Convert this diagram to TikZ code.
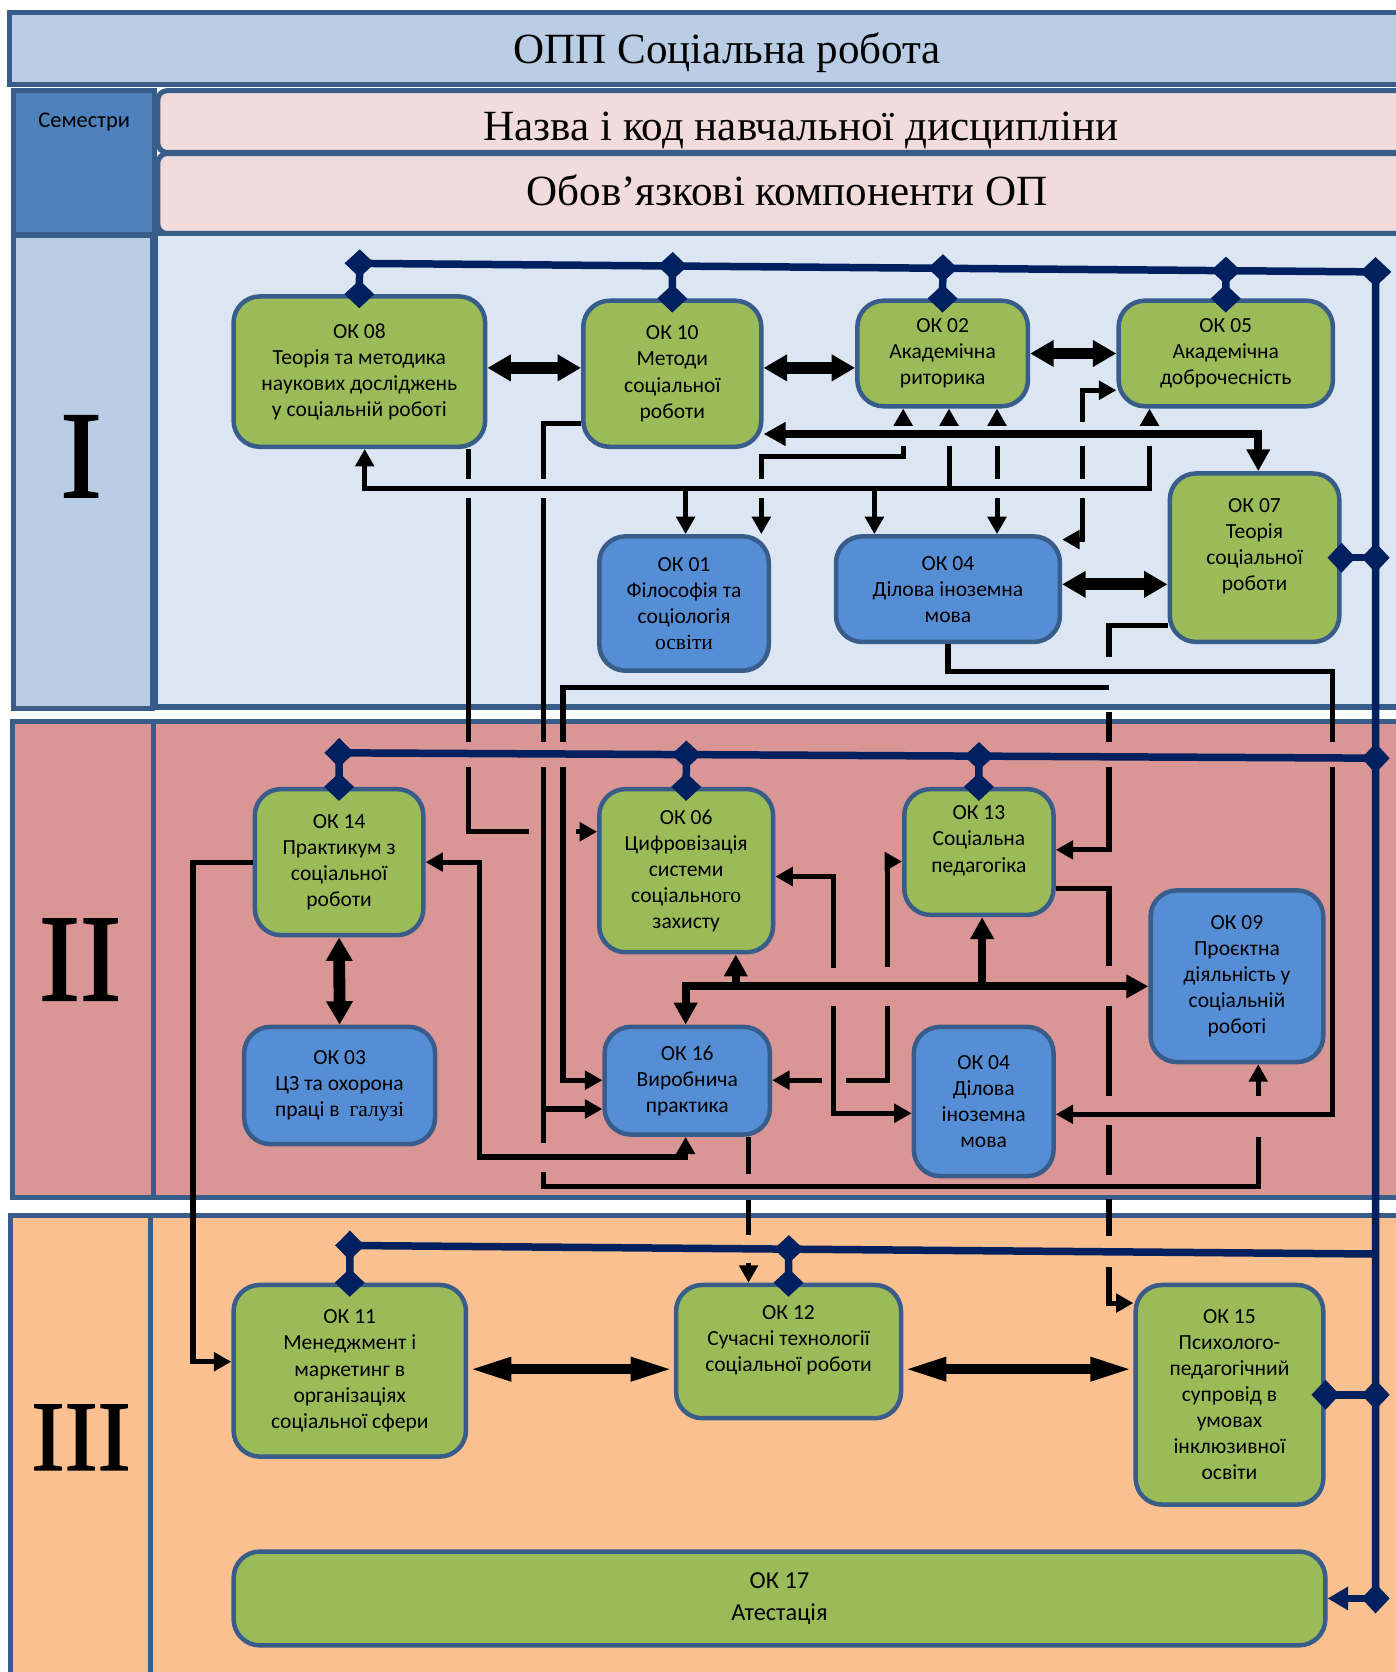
\documentclass[tikz,border=0pt]{standalone}
\usepackage{fontspec}
\setmainfont{Liberation Serif}
\newfontfamily\okfont{Carlito}
\newfontfamily\numfont[FakeBold=1.6]{Liberation Serif}
\usetikzlibrary{arrows.meta,calc,shapes.geometric}

\definecolor{hdrblue}{HTML}{B9CDE5}
\definecolor{frameblue}{HTML}{385D8A}
\definecolor{semcolblue}{HTML}{4F81BD}
\definecolor{rowpink}{HTML}{F2DCDB}
\definecolor{semone}{HTML}{DCE6F2}
\definecolor{semtwo}{HTML}{D99694}
\definecolor{semthree}{HTML}{FAC090}
\definecolor{okgreen}{HTML}{9BBB59}
\definecolor{okblue}{HTML}{558ED5}
\definecolor{busnavy}{HTML}{002060}

\tikzset{
  panel/.style={draw=frameblue, line width=2.7pt},
  okbox/.style={draw=frameblue, line width=2.4pt, rounded corners=14pt, align=center, inner sep=2pt,
    font=\okfont\fontsize{11.5}{13.9}\selectfont},
  gbox/.style={okbox, fill=okgreen},
  bbox/.style={okbox, fill=okblue},
  lnk/.style={line width=2.7pt, >={Triangle[length=9.3pt,width=9.8pt]}},
  lnkfat/.style={line width=4.3pt, >={Triangle[length=11.7pt,width=12pt]}},
  dbl/.style={line width=6.3pt, <->, >={Triangle[length=12.5pt,width=13.5pt]}},
  dbllong/.style={line width=5.3pt, <->, >={Triangle[length=23pt,width=11.5pt]}},
  bus/.style={draw=busnavy, line width=4pt},
  drop/.style={bus, >={Diamond[length=15pt,width=16pt]}, <->, shorten <=-7.5pt, shorten >=-7.5pt},
  dmd/.style={diamond, fill=busnavy, inner sep=0pt, minimum width=17pt, minimum height=16pt},
  semnum/.style={font=\numfont\fontsize{#1}{#1}\selectfont}
}

\begin{document}
\begin{tikzpicture}[x=0.02cm, y=-0.02cm]
\useasboundingbox (0,0) rectangle (1309,1568);
\clip (0,0) rectangle (1309,1568);
\fill[white] (0,0) rectangle (1309,1568);

% frame of the table
\draw[panel, fill=hdrblue] (9,12) rectangle (1340,79);
\draw[panel, fill=semcolblue] (13,85) rectangle (145,220);
\draw[panel, fill=rowpink, rounded corners=5pt] (148,85) rectangle (1340,143);
\draw[panel, fill=rowpink, rounded corners=5pt] (148,144) rectangle (1340,219);
\draw[panel, fill=hdrblue] (13,221) rectangle (143,664);
\draw[panel, fill=semone] (146,219) rectangle (1340,663);
\draw[panel, fill=semtwo] (12,677) rectangle (1340,1123);
\draw[panel] (144,677) -- (144,1123);
\draw[panel, fill=semthree] (10,1140) rectangle (1340,1620);
\draw[panel] (141,1140) -- (141,1620);

\node[anchor=base, font=\fontsize{23}{23}\selectfont] (title) at (682,60) {ОПП Соціальна робота};
\node[anchor=base, font=\fontsize{23}{23}\selectfont] (rowname) at (751,132) {Назва і код навчальної дисципліни};
\node[anchor=base, font=\fontsize{23}{23}\selectfont] (rowmand) at (738,193) {Обов’язкові компоненти ОП};
\node[anchor=base, font=\okfont\fontsize{12}{12}\selectfont] (semhdr) at (79,120) {Семестри};
\node[semnum=66] (semi) at (76,428) {I};
\node[semnum=66] (semii) at (75,900) {II};
\node[semnum=53] (semiii) at (76,1348) {III};

% semester I
\node[gbox, minimum width=4.72cm, minimum height=2.82cm] (ok08) at (337,348.5) {ОК 08\\Теорія та методика\\наукових досліджень\\у соціальній роботі};
\node[gbox, minimum width=3.34cm, minimum height=2.74cm] (ok10) at (630.5,350.5) {ОК 10\\Методи\\соціальної\\роботи};
\node[gbox, minimum width=3.2cm, minimum height=1.98cm] (ok02) at (884,331.5) {ОК 02\\Академічна\\риторика};
\node[gbox, minimum width=4.02cm, minimum height=1.98cm] (ok05) at (1149.5,331.5) {ОК 05\\Академічна\\доброчесність};
\node[gbox, minimum width=3.18cm, minimum height=3.16cm] (ok07) at (1176.5,523) {ОК 07\\Теорія\\соціальної\\роботи\\~};
\node[bbox, minimum width=3.18cm, minimum height=2.52cm] (ok01) at (641.5,566) {ОК 01\\Філософія та\\соціологія\\{\rmfamily освіти}};
\node[bbox, minimum width=4.2cm, minimum height=1.98cm] (ok04) at (889,552.5) {ОК 04\\Ділова іноземна\\мова};

% semester II
\node[gbox, minimum width=3.16cm, minimum height=2.74cm] (ok14) at (318,808.5) {ОК 14\\Практикум з\\соціальної\\роботи};
\node[gbox, minimum width=3.26cm, minimum height=3.06cm] (ok06) at (643.5,816.5) {ОК 06\\Цифровізація\\системи\\соціальн{\rmfamily ого}\\захисту};
\node[gbox, minimum width=2.8cm, minimum height=2.36cm] (ok13) at (918,799) {ОК 13\\Соціальна\\педагогіка\\~};
\node[bbox, minimum width=3.24cm, minimum height=3.22cm] (ok09) at (1160,915.5) {ОК 09\\Проєктна\\діяльність у\\соціальній\\роботі};
\node[bbox, minimum width=3.58cm, minimum height=2.2cm] (ok03) at (318.5,1018) {ОК 03\\ЦЗ та охорона\\праці в \ {\rmfamily галузі}};
\node[bbox, minimum width=3.1cm, minimum height=2.02cm] (ok16) at (644.5,1013.5) {ОК 16\\Виробнича\\практика};
\node[bbox, minimum width=2.62cm, minimum height=2.8cm] (ok04b) at (922.5,1033) {ОК 04\\Ділова\\іноземна\\мова};

% semester III
\node[gbox, minimum width=4.36cm, minimum height=3.22cm] (ok11) at (328,1285.5) {ОК 11\\Менеджмент і\\маркетинг в\\організаціях\\соціальної сфери};
\node[gbox, minimum width=4.22cm, minimum height=2.5cm] (ok12) at (739.5,1267.5) {ОК 12\\Сучасні технології\\соціальної роботи\\~};
\node[gbox, minimum width=3.52cm, minimum height=4.12cm] (ok15) at (1153,1308) {ОК 15\\Психолого-\\педагогічний\\супровід в\\умовах\\інклюзивної\\освіти};
\node[gbox, minimum width=20.48cm, minimum height=1.76cm, font=\okfont\fontsize{13}{17}\selectfont] (ok17) at (731,1499) {ОК 17\\Атестація};

% links, semester I
\draw[dbl] (ok08.east |- 0,345) -- (ok10.west |- 0,345);
\draw[dbl] (ok10.east |- 0,345) -- (ok02.west |- 0,345);
\draw[dbl] (ok02.east) -- (ok05.west);
\draw[dbl] (ok04.east |- 0,548) -- (ok07.west |- 0,548);
\draw[lnkfat, <->] (ok10.east |- 0,407) -- (1180,407) -- (ok07.north -| 1180,0);

\draw[lnk, <-] (ok02.south -| 847,0) -- (847,398);
\draw[lnk] (847,418) -- (847,428) -- (714,428) -- (714,449);
\draw[lnk, ->] (714,467) -- (ok01.north -| 714,0);
\draw[lnk, <-] (ok02.south -| 890,0) -- (890,398);
\draw[lnk] (890,418) -- (890,458);
\draw[lnk, <-] (ok02.south -| 935,0) -- (935,398);
\draw[lnk] (935,418) -- (935,449);
\draw[lnk, ->] (935,467) -- (ok04.north -| 935,0);
\draw[lnk, <-] (ok05.south -| 1078,0) -- (1078,398);
\draw[lnk, ->] (1078,418) -- (1078,458) -- (342,458) -- (ok08.south -| 342,0);
\draw[lnk, ->] (643,458) -- (ok01.north -| 643,0);
\draw[lnk, ->] (820,458) -- (ok04.north -| 820,0);
\draw[lnk, <-] (ok05.west |- 0,366) -- (1015,366) -- (1015,396);
\draw[lnk] (1015,418) -- (1015,449);
\draw[lnk, ->] (1015,467) -- (1015,506) -- (ok04.east |- 0,506);

\draw[lnk] (ok08.south -| 439,0) -- (439,449);
\draw[lnk] (439,467) -- (439,696);
\draw[lnk] (439,719) -- (439,780) -- (496,780);
\draw[lnk, ->] (540,780) -- (ok06.west |- 0,780);

\draw[lnk] (ok10.west |- 0,397) -- (510,397) -- (510,449);
\draw[lnk] (510,467) -- (510,696);
\draw[lnk] (510,719) -- (510,1072);
\draw[lnk, ->] (510,1040) -- (ok16.west |- 0,1040);
\draw[lnk] (510,1099) -- (510,1113) -- (1180,1113) -- (1180,1066);
\draw[lnk, ->] (1180,1028) -- (ok09.south -| 1180,0);

\draw[lnk] (ok07.west |- 0,587) -- (1040,587) -- (1040,616);
\draw[lnk] (1040,668) -- (1040,696);
\draw[lnk, ->] (1040,719) -- (1040,797) -- (ok13.east |- 0,797);
\draw[lnk] (1040,645) -- (528,645) -- (528,696);
\draw[lnk, ->] (528,719) -- (528,1013) -- (ok16.west |- 0,1013);

\draw[lnk] (ok04.south) -- (ok04.south |- 0,630) -- (1250,630) -- (1250,696);
\draw[lnk, ->] (1250,719) -- (1250,1045) -- (ok04b.east |- 0,1045);

% links, semester II
\draw[lnk] (ok13.east |- 0,833) -- (1040,833) -- (1040,906);
\draw[lnk] (1040,943) -- (1040,1028);
\draw[lnk] (1040,1055) -- (1040,1102);
\draw[lnk] (1040,1124) -- (1040,1159);
\draw[lnk, ->] (1040,1188) -- (1040,1222) -- (ok15.west |- 0,1222);

\draw[dbl] (ok14.south) -- (ok03.north);
\draw[lnk, ->] (ok14.west) -- (ok14.west -| 181,0) -- (181,1277) -- (ok11.west |- 0,1277);
\draw[lnk, <->] (ok14.east) -- (ok14.east -| 450,0) -- (450,1085) -- (643,1085) -- (ok16.south -| 643,0);
\draw[lnk, <-] (ok06.east |- 0,822) -- (782,822) -- (782,908);
\draw[lnk, ->] (782,943) -- (782,1044) -- (ok04b.west |- 0,1044);
\draw[lnk, <-] (ok16.east |- 0,1013) -- (771,1013);
\draw[lnk] (793,1013) -- (832,1013) -- (832,943);
\draw[lnk, ->] (832,907) -- (832,808) -- (ok13.west |- 0,808);
\draw[lnkfat, <->] (ok16.north -| 643,0) -- (643,925) -- (ok09.west |- 0,925);
\draw[lnkfat, ->] (690,925) -- (ok06.south -| 690,0);
\draw[lnkfat, ->] (921,925) -- (ok13.south -| 921,0);

\draw[lnk] (ok16.south -| 702,0) -- (702,1101);
\draw[lnk] (702,1125) -- (702,1158);
\draw[lnk, ->] (702,1184) -- (ok12.north -| 702,0);

% links, semester III
\draw[dbllong] (ok11.east |- 0,1284) -- (ok12.west |- 0,1284);
\draw[dbllong] (ok12.east |- 0,1284) -- (ok15.west |- 0,1284);

% navy buses
\coordinate (busIa) at (337,247);
\coordinate (busIb) at (1290,255);
\coordinate (busIIa) at (318,706);
\coordinate (busIIb) at (1290,711);
\coordinate (busIIIa) at (328,1168);
\coordinate (busIIIb) at (1290,1176);
\coordinate (vbusend) at (1290,1500);

\draw[bus] (busIa) -- (busIb) -- (vbusend);
\node[dmd] (jnI) at (busIb) {};
\foreach \ok in {ok08,ok10,ok02,ok05}
  \draw[drop] ($(busIa)!(\ok.north)!(busIb)$) -- (\ok.north);
\draw[drop] (ok07.east -| busIb) -- (ok07.east);

\draw[drop] (busIIa) -- (busIIb);
\foreach \ok in {ok14,ok06,ok13}
  \draw[drop] ($(busIIa)!(\ok.north)!(busIIb)$) -- (\ok.north);

\draw[bus, {Diamond[length=15pt,width=16pt]}-, shorten <=-7.5pt] (busIIIa) -- (busIIIb);
\foreach \ok in {ok11,ok12}
  \draw[drop] ($(busIIIa)!(\ok.north)!(busIIIb)$) -- (\ok.north);

\draw[drop] (ok15.east -| busIb) -- (ok15.east);
\draw[bus, {Diamond[length=15pt,width=16pt]}-{Triangle[length=11pt,width=12pt]}, shorten <=-7.5pt] (ok17.east -| busIb) -- (ok17.east);
\end{tikzpicture}
\end{document}
